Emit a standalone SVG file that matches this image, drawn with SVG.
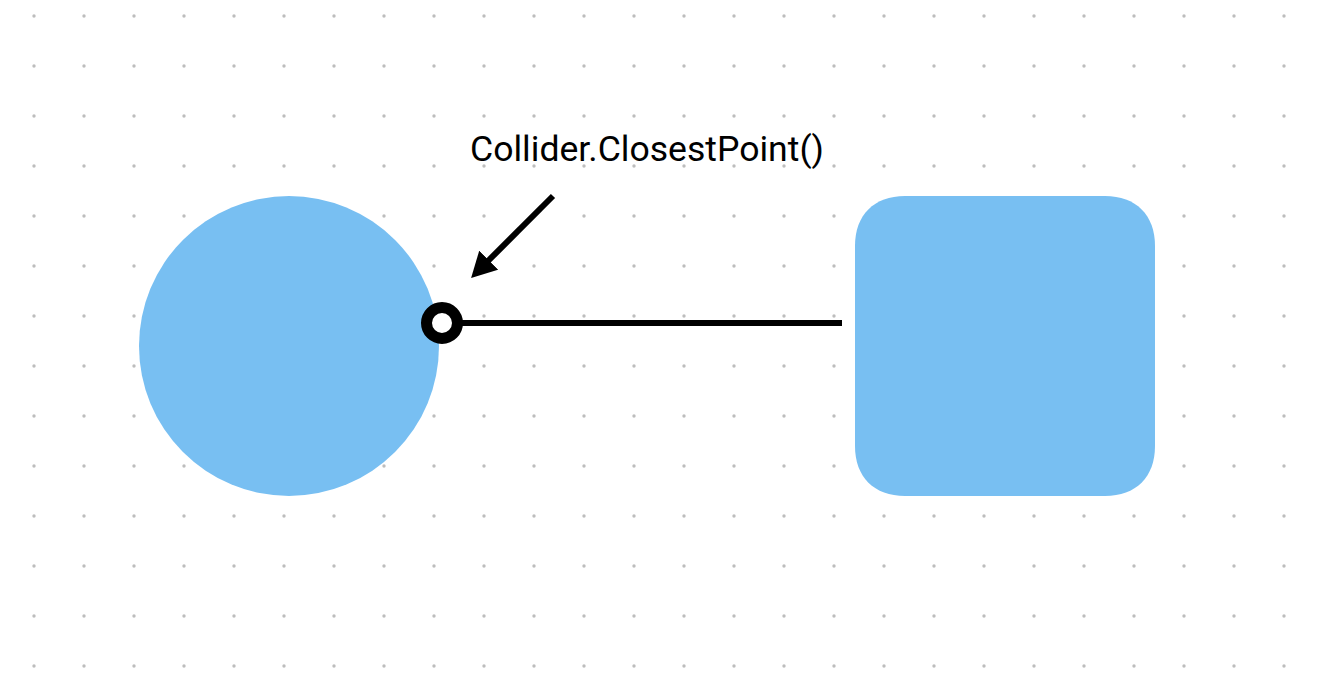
<svg xmlns="http://www.w3.org/2000/svg" width="1330" height="682" viewBox="0 0 1330 682">
  <defs>
    <pattern id="dots" patternUnits="userSpaceOnUse" x="9" y="-9" width="50" height="50">
      <circle cx="25" cy="25" r="1.7" fill="#bdbdbd"/>
    </pattern>
    <marker id="arrow" viewBox="0 0 25 27" refX="11" refY="13.5" markerWidth="25" markerHeight="27" markerUnits="userSpaceOnUse" orient="auto">
      <path d="M0 0 L25 13.5 L0 27 Z" fill="#000"/>
    </marker>
    <style>
      .shape { fill: #78bff2; }
      .line { stroke: #000; stroke-width: 6; fill: none; }
      .label { font-family: Roboto, "Liberation Sans", sans-serif; font-size: 35.6px; fill: #000; }
    </style>
  </defs>
  <rect width="1330" height="682" fill="#fff"/>
  <rect width="1330" height="682" fill="url(#dots)"/>
  <g id="circle-node">
    <circle class="shape" cx="289" cy="346" r="150"/>
  </g>
  <g id="square-node">
    <path class="shape" d="M905 196 H1105 C1136 196 1155 215 1155 246 V446 C1155 477 1136 496 1105 496 H905 C874 496 855 477 855 446 V246 C855 215 874 196 905 196 Z"/>
  </g>
  <g id="connectors">
    <line class="line" x1="442" y1="323" x2="842" y2="323"/>
    <line class="line" x1="553" y1="196" x2="481" y2="268" marker-end="url(#arrow)"/>
    <circle cx="442" cy="323" r="15.5" fill="#fff" stroke="#000" stroke-width="11"/>
  </g>
  <g id="label">
    <text class="label" x="470" y="161">Collider.ClosestPoint()</text>
  </g>
</svg>
